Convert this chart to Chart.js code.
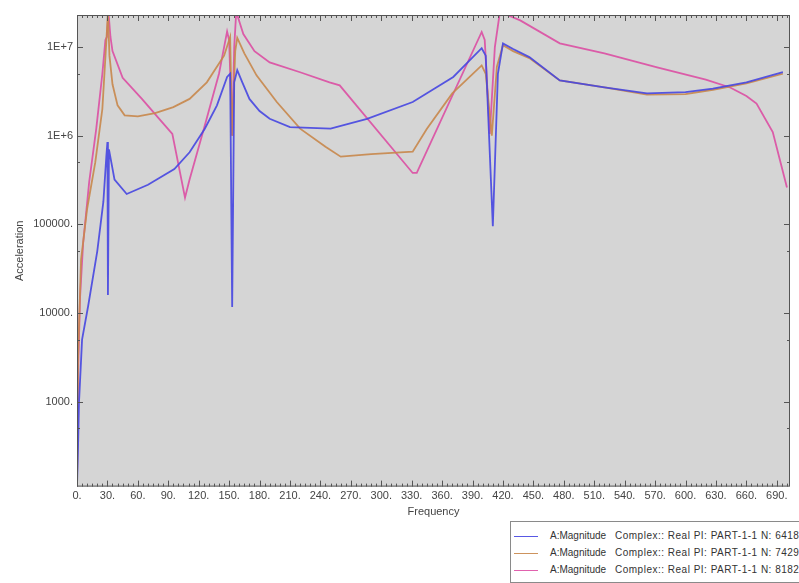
<!DOCTYPE html>
<html>
<head>
<meta charset="utf-8">
<script src="https://cdn.jsdelivr.net/npm/chart.js@4"></script>
<style>
    html, body { margin: 0; padding: 0; background: #fff; overflow: hidden; }
    #wrap { position: relative; width: 799px; height: 583px; overflow: hidden; }
    #legendBox {
        position: absolute; left: 510px; top: 521px; width: 320px; height: 60px;
        border: 1px solid #8a8a8a; background: #fff;
        font: 10px "Liberation Sans", Arial, sans-serif; color: #333;
    }
    .row { position: absolute; left: 0; height: 14px; white-space: nowrap; }
    .row .sw { position: absolute; left: 3px; top: 6px; width: 24px; height: 0; border-top: 1.5px solid; }
    .row .t1 { position: absolute; left: 39px; top: 0; }
    .row .t2 { position: absolute; left: 104px; top: 0; letter-spacing: 0.5px; }
</style>
</head>
<body>
<div id="wrap">
    <canvas id="chart" width="799" height="583"></canvas>
    <div id="legendBox"></div>
</div>
<script>
// Series names and colours
const seriesNames = [
    'Complex:: Real PI: PART-1-1 N: 6418',
    'Complex:: Real PI: PART-1-1 N: 7429',
    'Complex:: Real PI: PART-1-1 N: 8182'
];
const seriesColors = ['rgba(70, 70, 225, 0.9)', 'rgba(200, 135, 75, 0.9)', 'rgba(220, 70, 160, 0.85)'];

// Blue series (N: 6418)
const blueFreq = [0, 1, 2, 5, 11, 20, 26, 29, 30, 30.5, 31.5, 37, 49, 70, 96, 111, 126, 138, 148, 151, 153, 155, 158, 163, 170, 180, 190, 210, 250, 286, 331, 371, 399, 403, 410, 415, 420, 430, 446, 476, 520, 562, 600, 627, 660, 696];
const blueVals = [110, 300, 1000, 5000, 12000, 50000, 180000, 600000, 850000, 16000, 700000, 320000, 220000, 280000, 420000, 650000, 1200000, 2200000, 4600000, 5000000, 11700, 4000000, 5500000, 4000000, 2600000, 1900000, 1550000, 1250000, 1200000, 1550000, 2400000, 4600000, 9700000, 8000000, 95000, 5000000, 11000000, 9500000, 7700000, 4200000, 3500000, 3000000, 3100000, 3400000, 4000000, 5200000];

// Orange series (N: 7429)
const orangeFreq = [0, 1, 4, 10, 18, 25, 29, 30.5, 32, 35, 40, 47, 60, 77, 95, 111, 128, 145, 151, 153, 156, 158, 165, 177, 197, 220, 245, 260, 290, 331, 345, 370, 399, 403, 409, 414, 420, 430, 446, 476, 520, 562, 600, 627, 660, 696];
const orangeVals = [110, 3000, 40000, 150000, 500000, 2000000, 12000000, 25000000, 8000000, 3800000, 2200000, 1700000, 1650000, 1800000, 2100000, 2600000, 4000000, 8000000, 13000000, 1000000, 9000000, 12700000, 8500000, 4800000, 2400000, 1200000, 750000, 580000, 620000, 660000, 1200000, 3000000, 6200000, 5000000, 1000000, 6000000, 10500000, 9000000, 7500000, 4200000, 3500000, 2900000, 2950000, 3300000, 3900000, 5000000];

// Magenta series (N: 8182)
const pinkFreq = [0, 1, 3, 6, 12, 19, 25, 28, 29.5, 31, 33, 35, 45, 64, 80, 94, 106.5, 111, 126, 140, 148, 150, 153, 155, 157, 164, 175, 190, 220, 249, 259, 331, 335, 399, 402, 407, 412, 417, 437, 476, 520, 572, 620, 644, 660, 670, 686, 700];
const pinkVals = [110, 2000, 15000, 60000, 300000, 1200000, 5000000, 12000000, 13000000, 25000000, 13000000, 9000000, 4500000, 2600000, 1600000, 1050000, 200000, 320000, 1300000, 5000000, 15000000, 12000000, 1000000, 10000000, 25000000, 14000000, 9000000, 6700000, 5200000, 4000000, 3700000, 380000, 380000, 14800000, 12000000, 1050000, 10000000, 25000000, 20000000, 11000000, 8500000, 5900000, 4300000, 3500000, 2800000, 2300000, 1100000, 260000];

// Axis ticks
const xTickValues = [0, 30, 60, 90, 120, 150, 180, 210, 240, 270, 300, 330, 360, 390, 420, 450, 480, 510, 540, 570, 600, 630, 660, 690];
const yTickValues = [1000, 10000, 100000, 1000000, 10000000];
const yMinorTicks = [500, 5000, 50000, 500000, 5000000];

const X_MAX = 703;
const Y_MIN = 110;
const Y_MAX = 23000000;

/**
 * Plot background, frame and inward tick marks
 */
const frameTicks = {
    id: 'frameTicks',
    beforeDatasetsDraw(chart) {
        const { ctx, chartArea: a } = chart;
        ctx.save();
        ctx.fillStyle = '#d5d5d5';
        ctx.fillRect(a.left, a.top, a.right - a.left, a.bottom - a.top);
        ctx.restore();
    },
    afterDatasetsDraw(chart) {
        const { ctx, chartArea: a, scales } = chart;
        const x = scales.x, y = scales.y;
        ctx.save();
        ctx.strokeStyle = '#555';
        ctx.lineWidth = 1;
        ctx.beginPath();
        for (let f = 0; f <= X_MAX; f += 5) {
            const px = Math.round(x.getPixelForValue(f)) + 0.5;
            const len = f % 30 === 0 ? 6 : 3;
            ctx.moveTo(px, a.bottom); ctx.lineTo(px, a.bottom - len);
            ctx.moveTo(px, a.top); ctx.lineTo(px, a.top + len);
        }
        yTickValues.concat(yMinorTicks).forEach(v => {
            const py = Math.round(y.getPixelForValue(v)) + 0.5;
            const len = yTickValues.includes(v) ? 6 : 3;
            ctx.moveTo(a.left, py); ctx.lineTo(a.left + len, py);
            ctx.moveTo(a.right, py); ctx.lineTo(a.right - len, py);
        });
        ctx.stroke();
        ctx.strokeRect(a.left + 0.5, a.top + 0.5, a.right - a.left - 1, a.bottom - a.top - 1);
        ctx.restore();
    }
};

function toPoints(freq, vals) {
    return freq.map((f, i) => ({ x: f, y: vals[i] }));
}

const tickFont = { family: 'Liberation Sans', size: 11 };

new Chart(document.getElementById('chart'), {
    type: 'line',
    data: {
        datasets: [
            { label: seriesNames[0], data: toPoints(blueFreq, blueVals), borderColor: seriesColors[0] },
            { label: seriesNames[1], data: toPoints(orangeFreq, orangeVals), borderColor: seriesColors[1] },
            { label: seriesNames[2], data: toPoints(pinkFreq, pinkVals), borderColor: seriesColors[2] }
        ].map(ds => Object.assign(ds, {
            borderWidth: 1.8,
            pointRadius: 0,
            tension: 0,
            fill: false
        }))
    },
    options: {
        responsive: false,
        animation: false,
        layout: { padding: { left: 0, top: 15, right: 9, bottom: 64 } },
        plugins: {
            legend: { display: false },
            tooltip: { enabled: false }
        },
        scales: {
            x: {
                type: 'linear',
                min: 0,
                max: X_MAX,
                grid: { display: false, drawTicks: false },
                border: { display: false },
                afterBuildTicks: scale => { scale.ticks = xTickValues.map(v => ({ value: v })); },
                ticks: {
                    padding: 3,
                    color: '#444',
                    font: tickFont,
                    maxRotation: 0,
                    autoSkip: false,
                    callback: v => v + '.'
                },
                title: {
                    display: true,
                    text: 'Frequency',
                    color: '#444',
                    font: tickFont,
                    padding: { top: 0, bottom: 0 }
                }
            },
            y: {
                type: 'logarithmic',
                min: Y_MIN,
                max: Y_MAX,
                grid: { display: false, drawTicks: false },
                border: { display: false },
                afterBuildTicks: scale => { scale.ticks = yTickValues.map(v => ({ value: v })); },
                afterFit: scale => { scale.width = 77; },
                ticks: {
                    padding: 4,
                    color: '#444',
                    font: tickFont,
                    autoSkip: false,
                    callback: v => v >= 1000000 ? '1E+' + Math.round(Math.log10(v)) : v + '.'
                },
                title: {
                    display: true,
                    text: 'Acceleration',
                    color: '#444',
                    font: tickFont,
                    padding: { top: 13, bottom: 0 }
                }
            }
        }
    },
    plugins: [frameTicks]
});

// Legend box in the bottom right corner
const legendBox = document.getElementById('legendBox');
seriesNames.forEach((name, i) => {
    const row = document.createElement('div');
    row.className = 'row';
    row.style.top = (8 + i * 17) + 'px';
    row.innerHTML = '<span class="sw" style="border-color:' + seriesColors[i] + '"></span>' +
        '<span class="t1">A:Magnitude</span><span class="t2"></span>';
    row.querySelector('.t2').textContent = name;
    legendBox.appendChild(row);
});
</script>
</body>
</html>
